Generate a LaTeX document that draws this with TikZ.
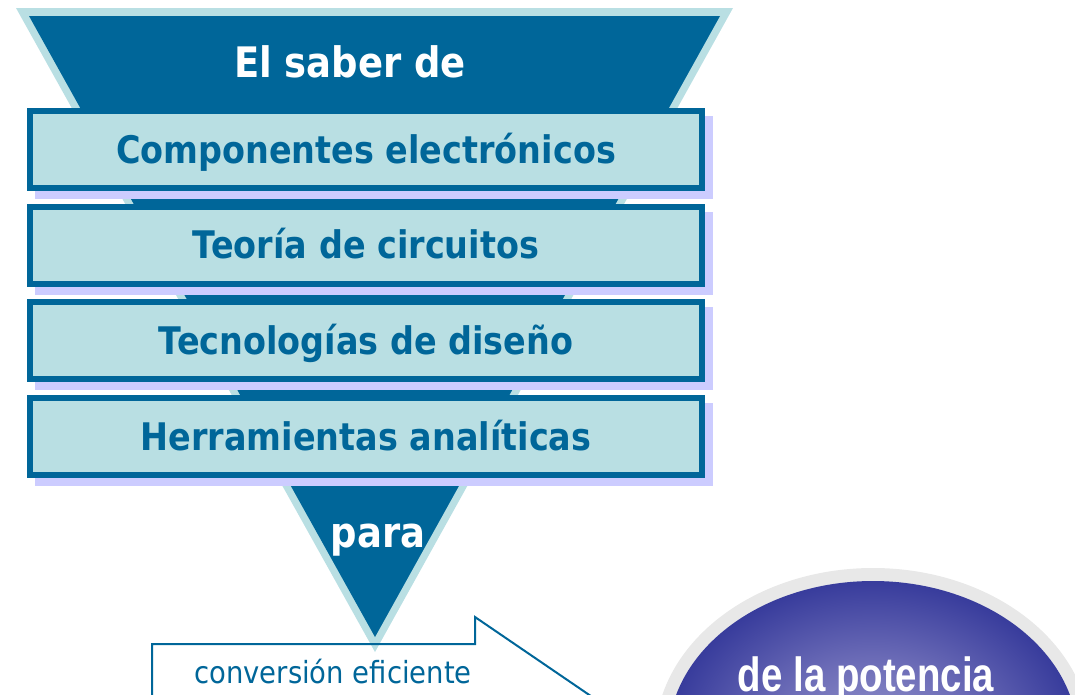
\documentclass[tikz,border=0pt]{standalone}
\usepackage{fontspec}
\usetikzlibrary{backgrounds,calc}
\newfontfamily\tah{DejaVu Sans}[FakeStretch=0.88]
\newfontfamily\tahr{DejaVu Sans}[FakeStretch=0.9]
\newfontfamily\arl{Liberation Sans}[FakeStretch=0.8]
\definecolor{darkb}{RGB}{0,102,153}
\definecolor{lightc}{RGB}{185,223,227}
\definecolor{shadowc}{RGB}{204,204,255}
\definecolor{ringc}{RGB}{232,232,232}
\definecolor{ellin}{RGB}{150,150,204}
\definecolor{ellmid}{RGB}{110,110,184}
\definecolor{ellout}{RGB}{56,60,156}
\pgfdeclareradialshading{ellshade}{\pgfpoint{0bp}{0bp}}{color(0bp)=(ellin); color(12bp)=(ellmid); color(25bp)=(ellout); color(50bp)=(ellout)}
\begin{document}
\begin{tikzpicture}[x=1pt,y=-1pt,
  barbox/.style={draw=darkb, line width=6pt, fill=lightc, minimum width=672pt, minimum height=77pt,
    inner sep=0pt, text=darkb, font=\tah\bfseries\fontsize{38}{44}\selectfont, text height=27pt, text depth=0pt},
  bigtxt/.style={text=white, font=\tah\bfseries\fontsize{42}{50}\selectfont, inner sep=0pt, anchor=base},
  callout/.style={draw=darkb, line width=2pt}]
\useasboundingbox (0,0) rectangle (1075,694);
\clip (0,0) rectangle (1075,694);
% bars
\node[barbox] (b1) at (366,149.5) {Componentes electrónicos};
\node[barbox] (b2) at (366,245.2) {Teoría de circuitos};
\node[barbox] (b3) at (366,340.8) {Tecnologías de diseño};
\node[barbox] (b4) at (366,436.5) {Herramientas analíticas};
\begin{scope}[on background layer]
  \fill[lightc] (16,8) -- (733,8) -- (375,652) -- cycle;
  \fill[darkb] (29,16) -- (720,16) -- (375,637) -- cycle;
  \foreach \b in {b1,b2,b3,b4}{
    \fill[shadowc] ([shift={(8,8)}]\b.north west) rectangle ([shift={(8,8)}]\b.south east);
  }
\end{scope}
\node[bigtxt] (saber) at (350,77) {El saber de};
\node[bigtxt] (para) at (378,547) {para};
% callout
\draw[callout] (152,720) -- (152,644) -- (475,644) -- (475,617) -- (626,720);
\node[anchor=base, inner sep=0pt, text=darkb, font=\tahr\fontsize{30.5}{36}\selectfont] (conv) at (333,683) {conversión eficiente};
% ellipse
\fill[ringc] (873,739) ellipse [x radius=218pt, y radius=171pt];
\shade[shading=ellshade] (873,739) ellipse [x radius=205pt, y radius=158pt];
\node[anchor=base, inner sep=0pt, text=white, font=\arl\bfseries\fontsize{48}{56}\selectfont] (pot) at (866,691) {de la potencia};
\end{tikzpicture}
\end{document}
